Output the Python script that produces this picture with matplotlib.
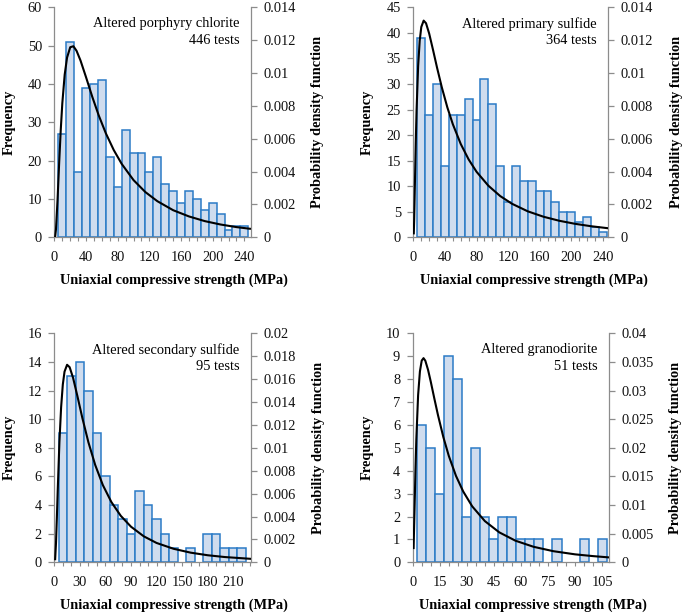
import numpy as np
import matplotlib
matplotlib.use('Agg')
import matplotlib.pyplot as plt
from matplotlib.ticker import FixedLocator, MultipleLocator

plt.rcParams['font.family'] = ['Liberation Serif', 'DejaVu Serif']

# ---------------- data ----------------
p1_title = "Altered porphyry chlorite"
p1_tests = "446 tests"
p1_centers = np.arange(10, 250, 10)
p1_counts = [27, 51, 17, 39, 40, 41, 21, 13, 28, 22, 22, 17, 21, 14, 12, 9, 12, 10, 7, 9, 6, 2, 3, 3]
p1_pdf_x = [1, 2, 4, 6, 8, 10, 13, 16, 20, 24, 28, 33, 40, 48, 56, 65, 75, 85, 100, 115, 130, 150, 170, 190, 210, 230, 247]
p1_pdf_y = [0.00006, 0.00049, 0.00231, 0.00452, 0.00652, 0.00816, 0.00990, 0.01094, 0.01157, 0.01163, 0.01135,
            0.01076, 0.00974, 0.00853, 0.00742, 0.00633, 0.00531, 0.00447, 0.00348, 0.00275, 0.00220, 0.00165,
            0.00127, 0.000985, 0.000778, 0.000621, 0.00052]

p2_title = "Altered primary sulfide"
p2_tests = "364 tests"
p2_centers = np.arange(10, 250, 10)
p2_counts = [39, 24, 30, 14, 24, 24, 27, 23, 31, 26, 14, 7, 14, 11, 11, 9, 9, 7, 5, 5, 3, 4, 2, 1]
p2_pdf_x = [0.5, 1, 2, 3, 4, 6, 8, 10, 13, 16, 20, 25, 30, 36, 43, 50, 60, 70, 80, 95, 110, 125, 145, 165, 185, 205, 225, 247]
p2_pdf_y = [0.00024, 0.00109, 0.00347, 0.00578, 0.00770, 0.01042, 0.01197, 0.01280, 0.01319, 0.01303, 0.01240,
            0.01138, 0.01032, 0.00913, 0.00791, 0.00688, 0.00568, 0.00474, 0.00399, 0.00314, 0.00251, 0.00204,
            0.00158, 0.00125, 0.001005, 0.00082, 0.000675, 0.00055]

p3_title = "Altered secondary sulfide"
p3_tests = "95 tests"
p3_centers = np.arange(10, 230, 10)
p3_counts = [9, 13, 14, 12, 9, 6, 4, 3, 2, 5, 4, 3, 2, 1, 0, 1, 0, 2, 2, 1, 1, 1]
p3_pdf_x = [1, 2, 3, 4, 6, 8, 10, 12, 15, 18, 22, 27, 33, 40, 48, 57, 67, 78, 90, 105, 120, 140, 160, 180, 200, 230]
p3_pdf_y = [0.00027, 0.00169, 0.00388, 0.00625, 0.01049, 0.01354, 0.01553, 0.01665, 0.01725, 0.01704, 0.01612,
            0.01455, 0.01258, 0.01049, 0.00850, 0.00674, 0.00526, 0.00406, 0.00311, 0.00227, 0.00169, 0.00118,
            0.000843, 0.000616, 0.00046, 0.000306]

p4_title = "Altered granodiorite"
p4_tests = "51 tests"
p4_centers = np.arange(5, 110, 5)
p4_counts = [6, 5, 3, 9, 8, 2, 5, 2, 1, 2, 2, 1, 1, 1, 0, 1, 0, 0, 1, 0, 1]
p4_pdf_x = [0.5, 1, 1.5, 2, 3, 4, 5, 6, 7, 8.5, 10, 12, 14, 17, 20, 24, 28, 33, 40, 48, 57, 67, 78, 90, 100, 109]
p4_pdf_y = [0.00249, 0.0090, 0.01571, 0.0214, 0.0292, 0.03334, 0.03523, 0.03566, 0.03521, 0.03363, 0.03157,
            0.0286, 0.02573, 0.02186, 0.0186, 0.01509, 0.01237, 0.00977, 0.0072, 0.00523, 0.00377, 0.00271,
            0.00194, 0.00139, 0.00108, 0.00085]

x_label = "Uniaxial compressive strength (MPa)"
y_label = "Frequency"
y2_label = "Probability density function"

# ---------------- layout ----------------
W, H = 685, 614
fig = plt.figure(figsize=(W / 100, H / 100), dpi=100)

def rect(l, r, t, b):
    return [l / W, 1 - b / H, (r - l) / W, (b - t) / H]

FILL = '#cfdcee'
EDGE = '#2b7bc6'
GRAY = '#8c8c8c'
FS = 10.4

panels = [
    dict(rect=(54.4, 250.7, 7.3, 237.3), centers=p1_centers, counts=p1_counts, bw=10, px=p1_pdf_x, py=p1_pdf_y,
         xlim=248, xticks=np.arange(0, 241, 40), minor=10, ylim=60, ystep=10, y2max=0.014, y2step=0.002,
         title=p1_title, tests=p1_tests, tx=239.3, ty=24, xl=(173.7, 280), yl=9, y2l=318),
    dict(rect=(413.4, 608.3, 7.3, 237.3), centers=p2_centers, counts=p2_counts, bw=10, px=p2_pdf_x, py=p2_pdf_y,
         xlim=247, xticks=np.arange(0, 241, 40), minor=10, ylim=45, ystep=5, y2max=0.014, y2step=0.002,
         title=p2_title, tests=p2_tests, tx=596.7, ty=24, xl=(533.8, 280), yl=367.3, y2l=676.7),
    dict(rect=(54.3, 250.7, 333.3, 562.3), centers=p3_centers, counts=p3_counts, bw=10, px=p3_pdf_x, py=p3_pdf_y,
         xlim=230.5, xticks=np.arange(0, 211, 30), minor=10, ylim=16, ystep=2, y2max=0.02, y2step=0.002,
         title=p3_title, tests=p3_tests, tx=239.3, ty=350, xl=(173.7, 605), yl=9, y2l=318.3),
    dict(rect=(412.7, 609.3, 333.3, 562.3), centers=p4_centers, counts=p4_counts, bw=5, px=p4_pdf_x, py=p4_pdf_y,
         xlim=109, xticks=np.arange(0, 106, 15), minor=5, ylim=10, ystep=1, y2max=0.04, y2step=0.005,
         title=p4_title, tests=p4_tests, tx=597.7, ty=350, xl=(533.0, 605), yl=367.3, y2l=675),
]

for p in panels:
    ax = fig.add_axes(rect(*p['rect']))
    c = np.asarray(p['centers'], dtype=float)
    n = np.asarray(p['counts'], dtype=float)
    m = n > 0
    ax.bar(c[m], n[m], width=p['bw'], color=FILL, edgecolor=EDGE, linewidth=1.1, zorder=2)
    ax.set_xlim(0, p['xlim'])
    ax.set_ylim(0, p['ylim'])
    ax.set_yticks(np.arange(0, p['ylim'] + 0.001, p['ystep']))
    ax.set_xticks(p['xticks'])
    ax.xaxis.set_minor_locator(MultipleLocator(p['minor']))
    ax.tick_params(axis='both', which='both', direction='out', color=GRAY, labelsize=FS, labelcolor='#111111')
    ax.tick_params(axis='y', length=4, width=0.9, pad=5)
    ax.tick_params(axis='x', which='both', length=3, width=0.8, pad=7)
    for s in ['top', 'right']:
        ax.spines[s].set_visible(False)
    for s in ['left', 'bottom']:
        ax.spines[s].set_color(GRAY)
        ax.spines[s].set_linewidth(0.9)

    ax2 = ax.twinx()
    ax2.plot(p['px'], p['py'], color='black', lw=1.5, zorder=3)
    ax2.set_ylim(0, p['y2max'])
    ticks2 = np.round(np.arange(0, p['y2max'] + 1e-9, p['y2step']), 4)
    ax2.yaxis.set_major_locator(FixedLocator(ticks2))
    ax2.set_yticklabels([f"{v:g}" for v in ticks2])
    ax2.tick_params(axis='y', direction='out', color=GRAY, length=4, width=0.9, pad=5,
                    labelsize=FS, labelcolor='#111111')
    for s in ['top', 'left', 'bottom']:
        ax2.spines[s].set_visible(False)
    ax2.spines['right'].set_color(GRAY)
    ax2.spines['right'].set_linewidth(0.9)

    fig.text(p['tx'] / W, 1 - p['ty'] / H, p['title'], ha='right', va='center', fontsize=FS)
    fig.text(p['tx'] / W, 1 - (p['ty'] + 16.5) / H, p['tests'], ha='right', va='center', fontsize=FS)

    l, r, t, b = p['rect']
    fig.text(p['xl'][0] / W, 1 - p['xl'][1] / H, x_label, ha='center', va='center',
             fontsize=FS, fontweight='bold')
    fig.text(p['yl'] / W, 1 - ((t + b) / 2) / H, y_label, ha='center', va='center',
             rotation=90, fontsize=FS, fontweight='bold')
    fig.text(p['y2l'] / W, 1 - ((t + b) / 2) / H, y2_label, ha='center', va='center',
             rotation=90, fontsize=FS, fontweight='bold')

fig.savefig('out.png', dpi=100)
